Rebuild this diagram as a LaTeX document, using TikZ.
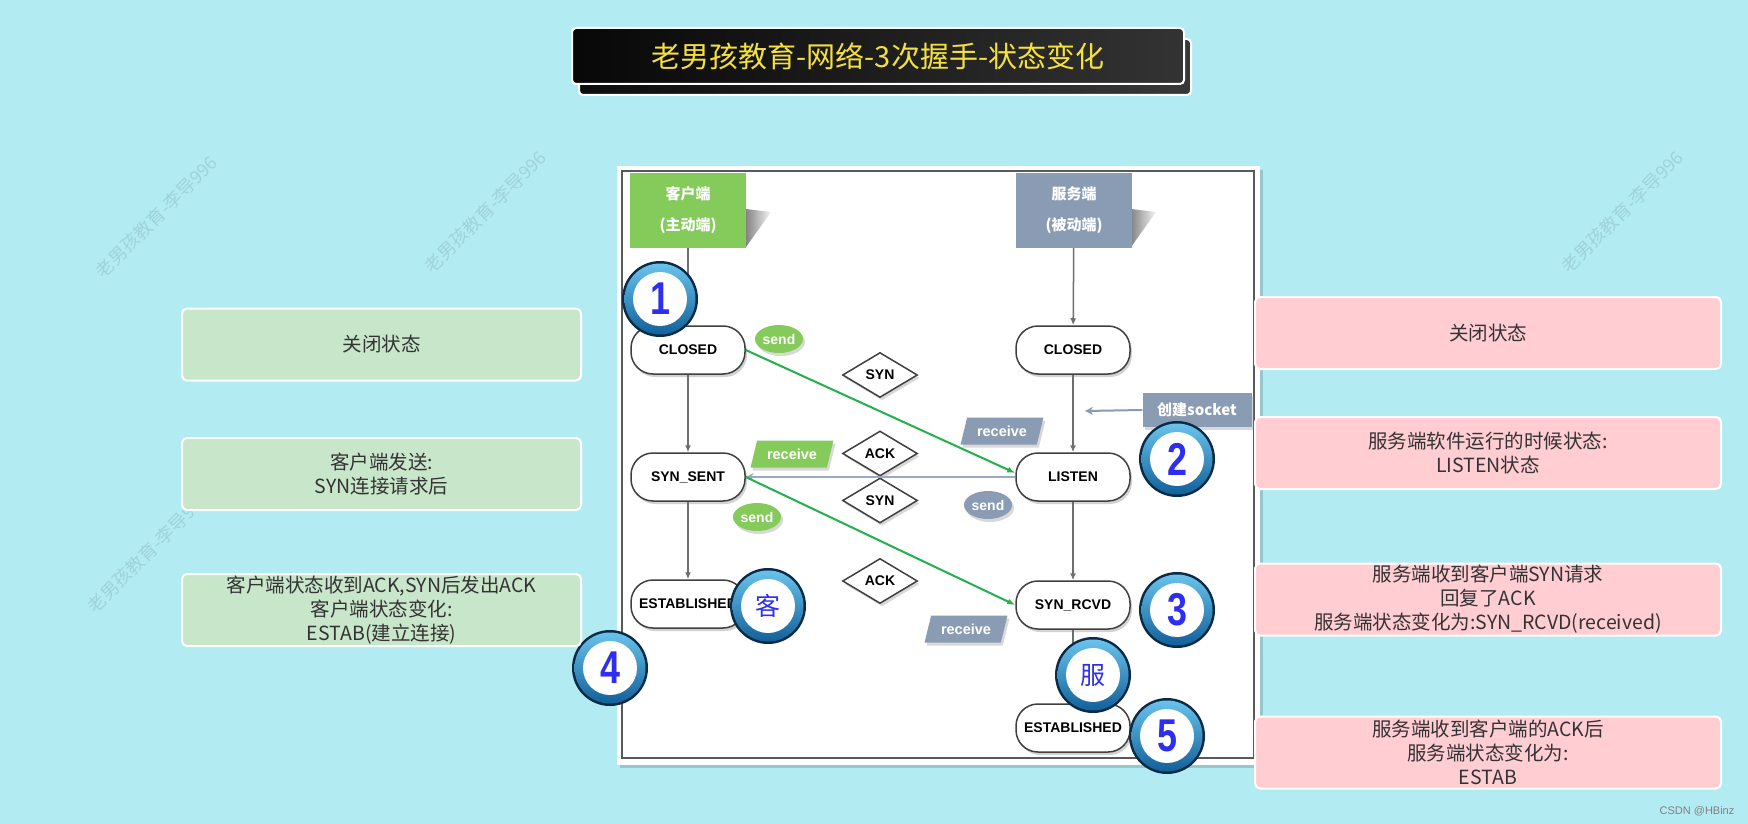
\documentclass[tikz,border=0pt]{standalone}
\usepackage{fontspec}
\setmainfont{Noto Sans CJK SC}
\newfontfamily\arialf{Liberation Sans}
\newfontfamily\cjk{Noto Sans CJK SC}
\usetikzlibrary{shapes.geometric,shadows,arrows.meta,calc}
\definecolor{bgc}{HTML}{B2EBF2}
\definecolor{gboxc}{HTML}{C8E6C9}
\definecolor{pboxc}{HTML}{FFCDD2}
\definecolor{txtc}{HTML}{333333}
\definecolor{hgreen}{HTML}{85CB5B}
\definecolor{hgray}{HTML}{8A9BB4}
\definecolor{titley}{HTML}{F5E13C}
\definecolor{linec}{HTML}{6E6E6E}
\definecolor{greenline}{HTML}{22B14C}
\definecolor{hline}{HTML}{9AAAC4}
\definecolor{ringdark}{HTML}{0A2A45}
\definecolor{ringtop}{HTML}{6CC6EE}
\definecolor{ringbot}{HTML}{0F5D97}
\definecolor{numblue}{HTML}{2E2EF0}
\begin{document}
\begin{tikzpicture}[x=1pt,y=-1pt,
  wm/.style={rotate=45, text=black, opacity=0.10, font=\fontsize{18}{18}\selectfont},
  infobox/.style={draw=white, line width=2pt, rounded corners=5pt, inner sep=0pt, align=center, text=txtc, font=\fontsize{19.5}{24}\selectfont},
  gbox/.style={infobox, fill=gboxc, minimum width=399pt, minimum height=72pt},
  pbox/.style={infobox, fill=pboxc, minimum width=466pt, minimum height=72pt},
  hdr/.style={minimum width=116pt, minimum height=75pt, inner sep=0pt, align=center, text=white, font=\bfseries\fontsize{15}{31}\selectfont},
  state/.style={draw=black!75, line width=1.5pt, rounded corners=22pt, fill=white, minimum width=114pt, minimum height=48pt, inner sep=0pt, font=\arialf\bfseries\fontsize{14}{14}\selectfont, drop shadow={shadow xshift=2pt, shadow yshift=-3pt, opacity=0.35}},
  msg/.style={diamond, draw=black!75, line width=1.5pt, fill=white, minimum width=75pt, minimum height=45pt, inner sep=0pt, font=\arialf\bfseries\fontsize{14}{14}\selectfont, drop shadow={shadow xshift=2pt, shadow yshift=-3pt, opacity=0.3}},
  sendg/.style={ellipse, fill=hgreen, text=white, minimum width=48pt, minimum height=28pt, inner sep=0pt, font=\arialf\bfseries\fontsize{14}{14}\selectfont, drop shadow={shadow xshift=2pt, shadow yshift=-3pt, opacity=0.3}},
  sendb/.style={sendg, fill=hgray},
  recvg/.style={trapezium, trapezium left angle=66, trapezium right angle=114, trapezium stretches=true, fill=hgreen, text=white, minimum width=83pt, minimum height=27pt, inner sep=0pt, font=\arialf\bfseries\fontsize{14.5}{14.5}\selectfont, drop shadow={shadow xshift=2pt, shadow yshift=-3pt, opacity=0.3}},
  recvb/.style={recvg, fill=hgray},
  varrow/.style={draw=linec, line width=1.5pt, -{Latex[length=7pt,width=6pt]}},
  garrow/.style={draw=greenline, line width=2pt, -{Latex[length=8pt,width=6pt]}},
  numc/.style={circle, minimum size=76pt, inner sep=0pt, fill=ringdark, text=numblue,
    font=\arialf\bfseries\fontsize{46}{46}\selectfont,
    path picture={
      \shade[top color=ringtop, bottom color=ringbot] (path picture bounding box.center) circle (35.5pt);
      \fill[white] (path picture bounding box.center) circle (27pt);
    }},
  kc/.style={numc, font=\cjk\fontsize{25}{25}\selectfont},
  wedge/.style={left color=black!60, right color=black!5, opacity=0.8}
]
\useasboundingbox (0,0) rectangle (1748,824);
\fill[bgc] (0,0) rectangle (1748,824);

% watermarks
\node[wm] (w1) at (156,217) {老男孩教育-李导996};
\node[wm] (w2) at (485,212) {老男孩教育-李导996};
\node[wm] (w3) at (1622,212) {老男孩教育-李导996};
\node[wm] (w4) at (148,552) {老男孩教育-李导996};

% title
\draw[draw=white, line width=2pt, rounded corners=4pt, left color=black!95, right color=black!78] (579,39) rectangle (1191,95);
\node[draw=white, line width=2pt, rounded corners=4pt, left color=black!97, right color=black!80, minimum width=612pt, minimum height=56pt, text=titley, font=\fontsize{29}{32}\selectfont] (title) at (878,56) {老男孩教育-网络-3次握手-状态变化};

% panel
\fill[black, opacity=0.15] (620,170) rectangle (1263,768);
\fill[white] (617,166) rectangle (1260,765);
\draw[black!65, line width=2pt] (622,171) rectangle (1254,758);

% header wedges
\shade[wedge] (746,209) -- (771,212) -- (746,247) -- cycle;
\shade[wedge] (1131,209) -- (1156,212) -- (1131,247) -- cycle;

% headers
\node[hdr, fill=hgreen] (chdr) at (688,210.5) {客户端\\(主动端)};
\node[hdr, fill=hgray] (shdr) at (1074,210.5) {服务端\\(被动端)};

% states
\node[state] (cclosed) at (688,350) {CLOSED};
\node[state] (sclosed) at (1073,350) {CLOSED};
\node[state] (synsent) at (688,477) {SYN\_SENT};
\node[state] (listen) at (1073,477) {LISTEN};
\node[state] (cest) at (688,604) {ESTABLISHED};
\node[state] (synrcvd) at (1073,605) {SYN\_RCVD};
\node[state] (sest) at (1073,728) {ESTABLISHED};

% vertical arrows
\draw[varrow] (chdr) -- (cclosed);
\draw[varrow] (cclosed) -- (synsent);
\draw[varrow] (synsent) -- (cest);
\draw[varrow] (shdr) -- (sclosed);
\draw[varrow] (sclosed) -- (listen);
\draw[varrow] (listen) -- (synrcvd);
\draw[varrow] (synrcvd) -- (sest);

% diamonds
\node[msg] (d1) at (880,375) {SYN};
\node[msg] (d2) at (880,453.5) {ACK};
\node[msg] (d3) at (880,500.5) {SYN};
\node[msg] (d4) at (880,581) {ACK};

% message lines
\draw[draw=hline, line width=2.5pt, -{Stealth[length=8pt,width=8pt]}] (listen.west) -- (synsent.east);
\draw[garrow] (cclosed.east) -- ([yshift=4pt]listen.west);
\draw[garrow] (synsent.east) -- (synrcvd.west);

% labels
\node[sendg] (s1) at (779,339) {send};
\node[recvb] (r1) at (1002,431) {receive};
\node[recvg] (r2) at (792,454) {receive};
\node[sendb] (s2) at (988,505) {send};
\node[sendg] (s3) at (757,517) {send};
\node[recvb] (r3) at (966,629) {receive};

% socket tag
\coordinate (sockend) at (1085,411);
\node[fill=hgray, text=white, minimum width=109pt, minimum height=34pt, inner sep=0pt, font=\bfseries\fontsize{15}{15}\selectfont, drop shadow={shadow xshift=2pt, shadow yshift=-3pt, opacity=0.3}] (sock) at (1197,410) {创建socket};
\draw[draw=hgray, line width=2pt, -{Stealth[length=8pt,width=8pt]}] (sock.west) -- (sockend);

% number circles
\node[numc] (n1) at (660,299) {\scalebox{0.78}[1]{1}};
\node[numc] (n2) at (1177,459) {\scalebox{0.78}[1]{2}};
\node[numc] (n3) at (1177,610) {\scalebox{0.78}[1]{3}};
\node[numc] (n4) at (610,668) {\scalebox{0.78}[1]{4}};
\node[numc] (n5) at (1167,736) {\scalebox{0.78}[1]{5}};
\node[kc] (nk) at (768,606) {客};
\node[kc] (nf) at (1093,675) {服};

% left boxes
\node[gbox] (g1) at (381.5,344.5) {关闭状态};
\node[gbox] (g2) at (381.5,474) {客户端发送:\\SYN连接请求后};
\node[gbox] (g3) at (381.5,610) {客户端状态收到ACK,SYN后发出ACK\\客户端状态变化:\\ESTAB(建立连接)};

% right boxes
\node[pbox] (p1) at (1488,333) {关闭状态};
\node[pbox] (p2) at (1488,453) {服务端软件运行的时候状态:\\LISTEN状态};
\node[pbox] (p3) at (1488,599.5) {服务端收到客户端SYN请求\\回复了ACK\\服务端状态变化为:SYN\_RCVD(received)};
\node[pbox] (p4) at (1488,752.5) {服务端收到客户端的ACK后\\服务端状态变化为:\\ESTAB};

\node[text=black!50, font=\arialf\fontsize{11}{11}\selectfont] (csdn) at (1697,811) {CSDN @HBinz};
\end{tikzpicture}
\end{document}
